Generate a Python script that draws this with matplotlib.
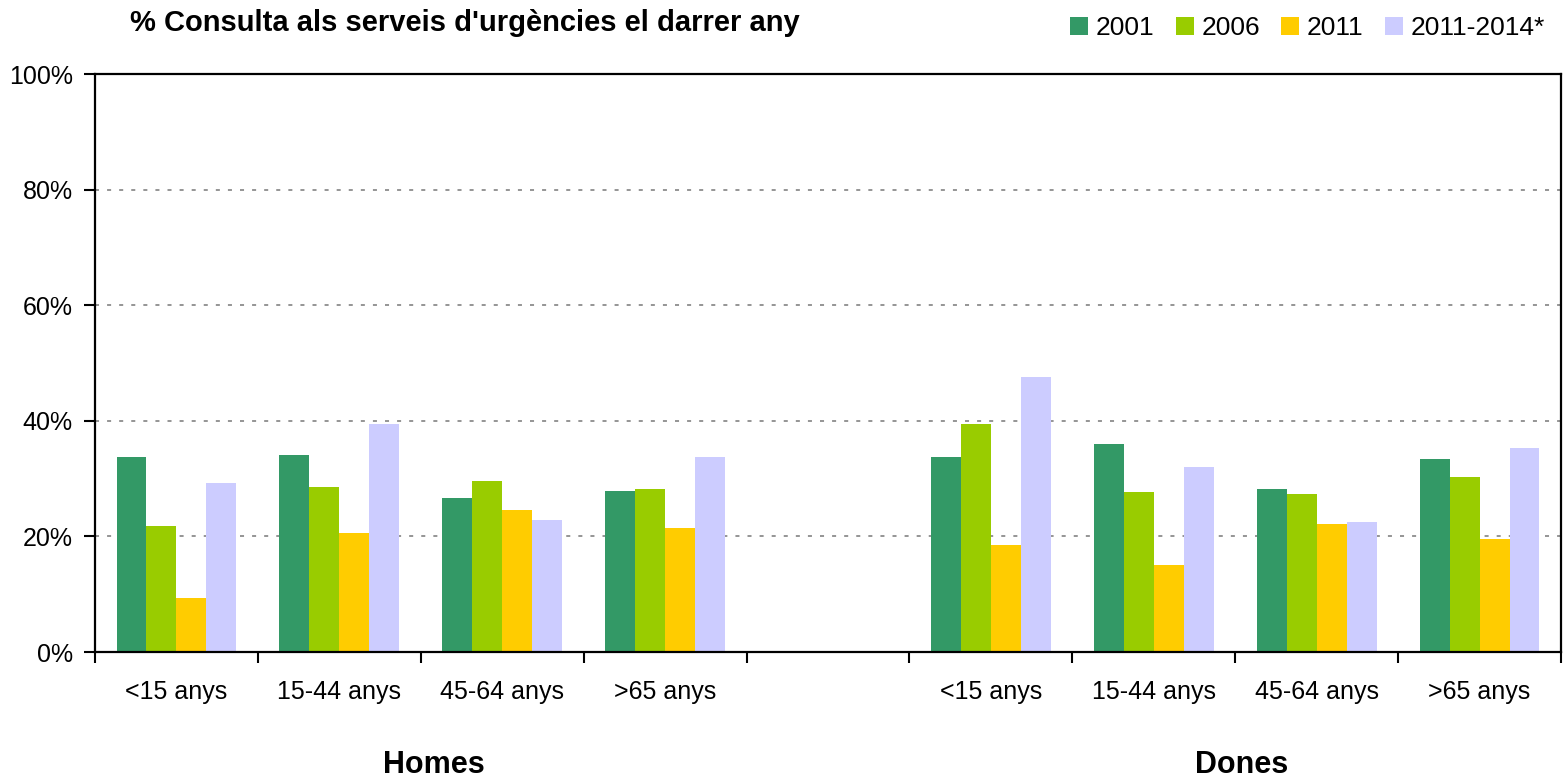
import matplotlib
matplotlib.use("Agg")
import matplotlib.pyplot as plt
import numpy as np
from matplotlib.patches import Patch
from matplotlib.ticker import FixedLocator, PercentFormatter

plt.rcParams['font.family'] = ['Liberation Sans', 'DejaVu Sans']
plt.rcParams['lines.scale_dashes'] = False

title = "% Consulta als serveis d'urgències el darrer any"
age_groups = ["<15 anys", "15-44 anys", "45-64 anys", ">65 anys"]
sexes = ["Homes", "Dones"]
series = ["2001", "2006", "2011", "2011-2014*"]
colors = ["#339966", "#99CC00", "#FFCC00", "#CCCCFF"]

homes_2001 = [33.7, 34.1, 26.6, 27.9]
homes_2006 = [21.8, 28.5, 29.6, 28.2]
homes_2011 = [9.3, 20.6, 24.6, 21.5]
homes_2014 = [29.2, 39.4, 22.8, 33.7]

dones_2001 = [33.7, 36.0, 28.2, 33.4]
dones_2006 = [39.4, 27.7, 27.3, 30.3]
dones_2011 = [18.5, 15.0, 22.1, 19.5]
dones_2014 = [47.6, 32.0, 22.5, 35.3]

homes = [homes_2001, homes_2006, homes_2011, homes_2014]
dones = [dones_2001, dones_2006, dones_2011, dones_2014]

# category layout: 4 Homes, 1 blank, 4 Dones
labels = age_groups + [""] + age_groups
n_cat = len(labels)
x = np.arange(n_cat)

fig = plt.figure(figsize=(15.66, 7.8), dpi=100)
ax = fig.add_axes([95/1566, 1-652/780, (1561-95)/1566, (652-74)/780])

bw = 0.184
for k in range(4):
    vals = homes[k] + [np.nan] + dones[k]
    ax.bar(x + (k - 1.5) * bw, vals, width=bw, color=colors[k], label=series[k], zorder=3)

ax.set_xlim(-0.5, n_cat - 0.5)
ax.set_ylim(0, 100)
ax.yaxis.set_major_locator(FixedLocator([0, 20, 40, 60, 80, 100]))
ax.yaxis.set_major_formatter(PercentFormatter(decimals=0))
for yv in [20, 40, 60, 80]:
    ax.axhline(yv, color="#8c8c8c", lw=1.3, linestyle=(0, (2.9, 5.8)), zorder=1)

ax.set_xticks(np.arange(n_cat + 1) - 0.5)
ax.set_xticklabels([])
ax.set_xticks(x, minor=True)
ax.set_xticklabels(labels, minor=True)
ax.tick_params(axis='x', which='major', length=8, width=1.5, direction='out')
ax.tick_params(axis='x', which='minor', length=0, pad=20.5, labelsize=18)
ax.tick_params(axis='y', length=8, width=1.5, direction='out', pad=8, labelsize=18)

for s in ax.spines.values():
    s.set_linewidth(1.6)
    s.set_color("black")
    s.set_zorder(4)

# group labels
ax.text(1.58, -0.195, sexes[0], transform=ax.get_xaxis_transform(), ha='center', va='center',
        fontsize=22, fontweight='bold')
ax.text(6.54, -0.195, sexes[1], transform=ax.get_xaxis_transform(), ha='center', va='center',
        fontsize=22, fontweight='bold')

fig.text(130/1566, 1-23/780, title, ha='left', va='center', fontsize=21, fontweight='bold')

handles = [Patch(facecolor=c, edgecolor='none') for c in colors]
fig.legend(handles, series, loc='center right', bbox_to_anchor=(1545/1566, 1-28/780), ncol=4,
           frameon=False, fontsize=19, handlelength=0.68, handleheight=0.68,
           handletextpad=0.3, columnspacing=0.8, borderpad=0, borderaxespad=0)

fig.savefig("out.png", dpi=100)
